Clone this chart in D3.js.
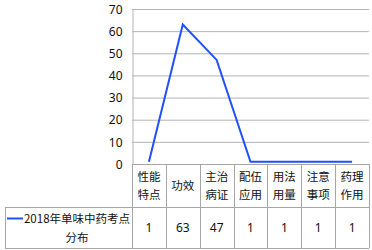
<!DOCTYPE html>
<html>
<head>
<meta charset="utf-8">
<script src="https://cdn.jsdelivr.net/npm/d3@7"></script>
<style>
  body { margin: 0; background: #fff; }
  text { font-family: "Noto Sans CJK SC", "Noto Sans", sans-serif; fill: #111; }
</style>
</head>
<body>
<div id="chart"></div>
<script>
// chart values
const categories = ["性能特点", "功效", "主治病证", "配伍应用", "用法用量", "注意事项", "药理作用"];
const headerLines = [["性能", "特点"], ["功效"], ["主治", "病证"], ["配伍", "应用"], ["用法", "用量"], ["注意", "事项"], ["药理", "作用"]];
const values = [1, 63, 47, 1, 1, 1, 1];
const seriesName = ["2018年单味中药考点", "分布"];
const yTicks = [0, 10, 20, 30, 40, 50, 60, 70];

const width = 372, height = 250;
const plotLeft = 132, plotRight = 369, plotTop = 9, plotBottom = 164;
const headerBottom = 207, tableBottom = 248, tableLeft = 5;
const gridColor = "#b4b4b4", tableColor = "#a6a6a6", lineColor = "#1f4fff";

const svg = d3.select("#chart").append("svg")
  .attr("width", width)
  .attr("height", height);

const x = d3.scaleBand().domain(categories).range([plotLeft, plotRight]);
const y = d3.scaleLinear().domain([0, 70]).range([plotBottom, plotTop]);

// gridlines
svg.append("g")
  .selectAll("line")
  .data(yTicks.slice(1))
  .enter()
  .append("line")
  .attr("x1", plotLeft).attr("x2", plotRight)
  .attr("y1", d => y(d) + 0.5).attr("y2", d => y(d) + 0.5)
  .attr("stroke", gridColor)
  .attr("stroke-width", 1);

// y axis
const yAxis = svg.append("g")
  .attr("transform", `translate(${plotLeft + 0.5},0)`)
  .call(d3.axisLeft(y).tickValues(yTicks).tickSize(0).tickPadding(10));
yAxis.select(".domain").attr("stroke", gridColor);
yAxis.selectAll("text")
  .attr("font-size", "12px")
  .attr("dy", "0.35em")
  .style("font-family", "'Noto Sans', sans-serif");

// line
const line = d3.line()
  .x((d, i) => x(categories[i]) + x.bandwidth() / 2)
  .y(d => y(d));

svg.append("path")
  .datum(values)
  .attr("d", line)
  .attr("fill", "none")
  .attr("stroke", lineColor)
  .attr("stroke-width", 2)
  .attr("stroke-linejoin", "miter");

// data table
const table = svg.append("g");

// horizontal lines
table.append("line")
  .attr("x1", plotLeft).attr("x2", plotRight)
  .attr("y1", plotBottom + 0.5).attr("y2", plotBottom + 0.5)
  .attr("stroke", tableColor);
table.append("line")
  .attr("x1", tableLeft).attr("x2", plotRight)
  .attr("y1", headerBottom + 0.5).attr("y2", headerBottom + 0.5)
  .attr("stroke", tableColor);
table.append("line")
  .attr("x1", tableLeft).attr("x2", plotRight)
  .attr("y1", tableBottom + 0.5).attr("y2", tableBottom + 0.5)
  .attr("stroke", tableColor);

// vertical lines
const bounds = categories.map(c => x(c)).concat([plotRight]);
table.selectAll(".vline")
  .data(bounds)
  .enter()
  .append("line")
  .attr("x1", d => Math.round(d) + 0.5).attr("x2", d => Math.round(d) + 0.5)
  .attr("y1", plotBottom).attr("y2", tableBottom)
  .attr("stroke", tableColor);
table.append("line")
  .attr("x1", tableLeft + 0.5).attr("x2", tableLeft + 0.5)
  .attr("y1", headerBottom).attr("y2", tableBottom)
  .attr("stroke", tableColor);

// header labels
table.selectAll(".hdr")
  .data(categories)
  .enter()
  .append("text")
  .attr("text-anchor", "middle")
  .attr("font-size", "11.5px")
  .each(function (d, i) {
    const lines = headerLines[i];
    const cx = x(d) + x.bandwidth() / 2;
    const cy = (plotBottom + headerBottom) / 2;
    const lh = 18;
    lines.forEach((t, k) => {
      d3.select(this).append("tspan")
        .attr("x", cx)
        .attr("y", cy + (k - (lines.length - 1) / 2) * lh)
        .attr("dy", "0.35em")
        .text(t);
    });
  });

// value row
table.selectAll(".val")
  .data(values)
  .enter()
  .append("text")
  .attr("text-anchor", "middle")
  .attr("font-size", "12px")
  .attr("x", (d, i) => x(categories[i]) + x.bandwidth() / 2)
  .attr("y", (headerBottom + tableBottom) / 2)
  .attr("dy", "0.35em")
  .style("font-family", "'Noto Sans', sans-serif")
  .text(d => d);

// legend cell
const rowMid = (headerBottom + tableBottom) / 2;
table.append("line")
  .attr("x1", 7).attr("x2", 23)
  .attr("y1", rowMid - 9).attr("y2", rowMid - 9)
  .attr("stroke", lineColor)
  .attr("stroke-width", 2);
table.append("text")
  .attr("text-anchor", "middle")
  .attr("font-size", "11.5px")
  .selectAll("tspan")
  .data(seriesName)
  .enter()
  .append("tspan")
  .attr("x", 77)
  .attr("y", (d, i) => rowMid - 9 + i * 19)
  .attr("dy", "0.35em")
  .text(d => d);
</script>
</body>
</html>
